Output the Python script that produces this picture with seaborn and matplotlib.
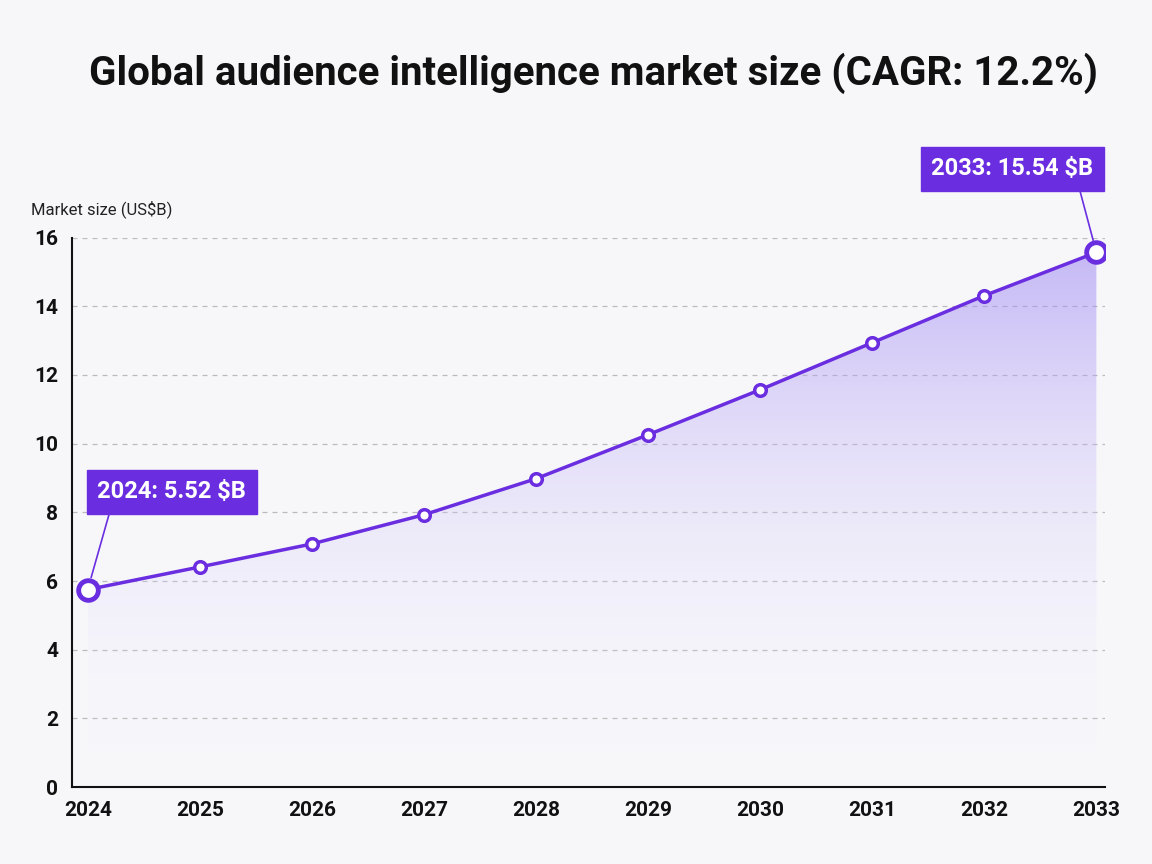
import matplotlib
matplotlib.use("Agg")
import matplotlib.pyplot as plt
import seaborn as sns
import numpy as np
import pandas as pd
from matplotlib.patches import Polygon
from matplotlib.colors import LinearSegmentedColormap

years = [2024, 2025, 2026, 2027, 2028, 2029, 2030, 2031, 2032, 2033]
values = [5.75, 6.41, 7.08, 7.93, 8.98, 10.26, 11.57, 12.94, 14.31, 15.57]
yticks = [0, 2, 4, 6, 8, 10, 12, 14, 16]
title = "Global audience intelligence market size (CAGR: 12.2%)"
label_first = "2024: 5.52 $B"
label_last = "2033: 15.54 $B"

bg = "#f7f7fa"
purple = "#6a2ee0"
sns.set_theme(style="white")
plt.rcParams['font.family'] = ['Roboto', 'DejaVu Sans']

df = pd.DataFrame({"year": years, "value": values})
fig = plt.figure(figsize=(11.52, 8.64), dpi=100, facecolor=bg)
ax = fig.add_axes([0.0625, 0.089, 0.897, 0.636], facecolor=bg)

ax.set_xlim(years[0] - 0.14, years[-1] + 0.08)
ax.set_ylim(0, 16)

grad = np.linspace(0, 1, 256).reshape(-1, 1)
cmap = LinearSegmentedColormap.from_list("g", [(1, 1, 1, 0), (0.6, 0.5, 0.95, 0.55)])
im = ax.imshow(grad, extent=[years[0], years[-1], 0, 16], origin="lower",
               aspect="auto", cmap=cmap, zorder=1)
poly = Polygon([(years[0], 0)] + list(zip(years, values)) + [(years[-1], 0)],
               closed=True, facecolor="none", edgecolor="none")
ax.add_patch(poly)
im.set_clip_path(poly)

for t in yticks[1:]:
    ax.axhline(t, color="#bbbbbb", lw=0.9, ls=(0, (4, 4)), zorder=0)

sns.lineplot(data=df, x="year", y="value", ax=ax, color=purple, lw=2.5, zorder=3)
ax.scatter(years[1:-1], values[1:-1], s=70, facecolor="white", edgecolor=purple, lw=2.5, zorder=4)
ax.scatter([years[0], years[-1]], [values[0], values[-1]], s=200, facecolor="white",
           edgecolor=purple, lw=3.5, zorder=4)

box = dict(boxstyle="square,pad=0.45", fc=purple, ec=purple)
ax.annotate(label_first, xy=(years[0], values[0]), xytext=(years[0] + 0.75, 8.6),
            ha="center", va="center", color="white", fontsize=17, fontweight="bold",
            bbox=box, arrowprops=dict(arrowstyle="-", color=purple, lw=1.2,
                                      shrinkA=0, shrinkB=9, relpos=(0.1, 0)), zorder=5)
ax.annotate(label_last, xy=(years[-1], values[-1]), xytext=(years[-1] - 0.75, 18.0),
            ha="center", va="center", color="white", fontsize=17, fontweight="bold",
            bbox=box, arrowprops=dict(arrowstyle="-", color=purple, lw=1.2,
                                      shrinkA=0, shrinkB=9, relpos=(0.9, 0)),
            annotation_clip=False, zorder=5)

ax.set_xticks(years)
ax.set_xticklabels([str(y) for y in years], fontsize=15, fontweight="bold", color="#111")
ax.set_yticks(yticks)
ax.set_yticklabels([str(t) for t in yticks], fontsize=15, fontweight="bold", color="#111")
ax.tick_params(axis="both", length=0, pad=10)
ax.set_xlabel("")
ax.set_ylabel("")
for s in ["top", "right"]:
    ax.spines[s].set_visible(False)
for s in ["left", "bottom"]:
    ax.spines[s].set_color("#111")
    ax.spines[s].set_linewidth(1.5)

fig.text(0.027, 0.752, "Market size (US$B)", fontsize=12, color="#222")
fig.text(0.515, 0.915, title, ha="center", va="center", fontsize=29,
         fontweight="bold", color="#111")
fig.savefig("out.png", dpi=100, facecolor=bg)
